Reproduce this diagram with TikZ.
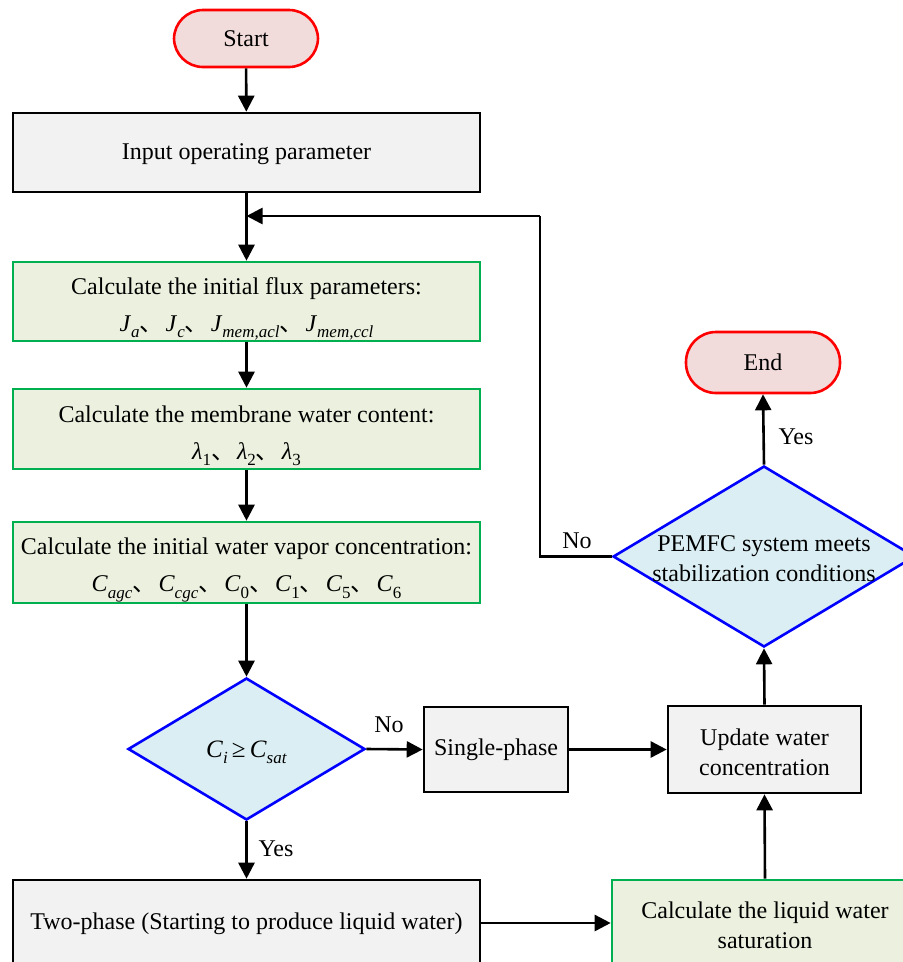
\documentclass[tikz,border=0pt]{standalone}
\usepackage{fontspec}
\setmainfont{Liberation Serif}
\newfontfamily\cjk{Noto Sans CJK SC}
\usetikzlibrary{arrows.meta,shapes.geometric}
\definecolor{termfill}{HTML}{F2DCDB}
\definecolor{termline}{HTML}{FF0000}
\definecolor{grayfill}{HTML}{F2F2F2}
\definecolor{greenfill}{HTML}{EBF1DE}
\definecolor{greenline}{HTML}{00B050}
\definecolor{bluefill}{HTML}{DAEEF3}
\definecolor{blueline}{HTML}{0000FF}
\newcommand{\dun}{{\cjk 、}\hspace{2pt}}
\newcommand{\isub}[1]{\raisebox{-0.55ex}{\fontsize{17}{17}\selectfont\textit{#1}}}
\newcommand{\usub}[1]{\raisebox{-0.55ex}{\fontsize{17}{17}\selectfont #1}}
\tikzset{
  txt/.style={font=\fontsize{24}{37}\selectfont, align=center, inner sep=0pt},
  txtb/.style={font=\fontsize{24}{30}\selectfont, align=center, inner sep=0pt},
  term/.style={draw=termline, fill=termfill, line width=2.6pt, rounded corners=29pt, inner sep=0pt, font=\fontsize{24}{30}\selectfont},
  graybox/.style={draw=black, fill=grayfill, line width=2.6pt, inner sep=0pt},
  greenbox/.style={draw=greenline, fill=greenfill, line width=2.6pt, inner sep=0pt},
  decide/.style={diamond, draw=blueline, fill=bluefill, line width=2.6pt, inner sep=0pt},
  arr/.style={line width=2.6pt, -{Triangle[length=16pt,width=16pt]}},
  lbl/.style={font=\fontsize{24}{30}\selectfont, inner sep=0pt},
}
\begin{document}
\begin{tikzpicture}[x=1pt,y=-1pt]
\useasboundingbox (0,0) rectangle (903,962);
\clip (0,0) rectangle (903,962);
% nodes
\node[term, minimum width=144, minimum height=57] (start) at (246,38.5) {Start};
\node[graybox, minimum width=467, minimum height=79] (input) at (246.5,152.5) {};
\node[txt] at (246.5,154) {Input operating parameter};
\node[greenbox, minimum width=467, minimum height=79] (flux) at (246.5,301.5) {};
\node[txt] at (246.5,309) {Calculate the initial flux parameters:\\
  \textit{J}\isub{a}\dun\textit{J}\isub{c}\dun\textit{J}\isub{mem,acl}\dun\textit{J}\isub{mem,ccl}};
\node[greenbox, minimum width=467, minimum height=80] (memb) at (246.5,429) {};
\node[txt] at (246.5,436) {Calculate the membrane water content:\\
  \textit{λ}\usub{1}\dun\textit{λ}\usub{2}\dun\textit{λ}\usub{3}};
\node[greenbox, minimum width=467, minimum height=81] (vapor) at (246.5,562.5) {};
\node[txt] at (246.5,570) {Calculate the initial water vapor concentration:\\
  \textit{C}\isub{agc}\dun\textit{C}\isub{cgc}\dun\textit{C}\usub{0}\dun\textit{C}\usub{1}\dun\textit{C}\usub{5}\dun\textit{C}\usub{6}};
\node[decide, minimum width=237, minimum height=142] (d1) at (246.5,749) {};
\node[txt, font=\fontsize{25}{30}\selectfont] at (246.5,752) {\textit{C}\isub{i}\,≥\,\textit{C}\isub{sat}};
\node[graybox, minimum width=144, minimum height=85] (single) at (496,749.5) {};
\node[txt] at (single) {Single-phase};
\node[graybox, minimum width=193, minimum height=87] (update) at (764.5,749.5) {};
\node[txtb] at (764.5,752) {Update water\\concentration};
\node[decide, minimum width=302, minimum height=181] (d2) at (764,556.5) {};
\node[txtb] at (764,559) {PEMFC system meets\\stabilization conditions};
\node[term, minimum width=154, minimum height=61, rounded corners=30pt] (end) at (763,362.5) {End};
\node[graybox, minimum width=467, minimum height=86] (two) at (246.5,923) {};
\node[txt] at (246.5,924) {Two-phase (Starting to produce liquid water)};
\node[greenbox, minimum width=306, minimum height=86] (liquid) at (765,923) {};
\node[txtb] at (765,925) {Calculate the liquid water\\saturation};
\coordinate (merge) at (246.5,216);
\coordinate (loopbot) at (540,556.5);
\coordinate (looptop) at (540,216);
% connectors
\draw[arr] (start) -- (input);
\draw[arr] (input) -- (flux);
\draw[arr] (looptop) -- (merge);
\draw[arr] (flux) -- (memb);
\draw[arr] (memb) -- (vapor);
\draw[arr] (vapor.south) -- (d1.north);
\draw[arr] (d1.east) -- (single.west);
\draw[arr] (single) -- (update);
\draw[arr] (d1.south) -- (two.north);
\draw[arr] (two.east |- liquid.west) -- (liquid.west);
\draw[arr] (liquid.north) -- (update.south);
\draw[arr] (update.north) -- (d2.south);
\draw[arr] (d2.north) -- (end.south);
\draw[line width=2.6pt] (d2.west) -- (loopbot) -- (looptop);
% labels
\node[lbl] at (389,725) {No};
\node[lbl] at (276,849) {Yes};
\node[lbl] at (796,437) {Yes};
\node[lbl] at (577,541) {No};
\end{tikzpicture}
\end{document}
